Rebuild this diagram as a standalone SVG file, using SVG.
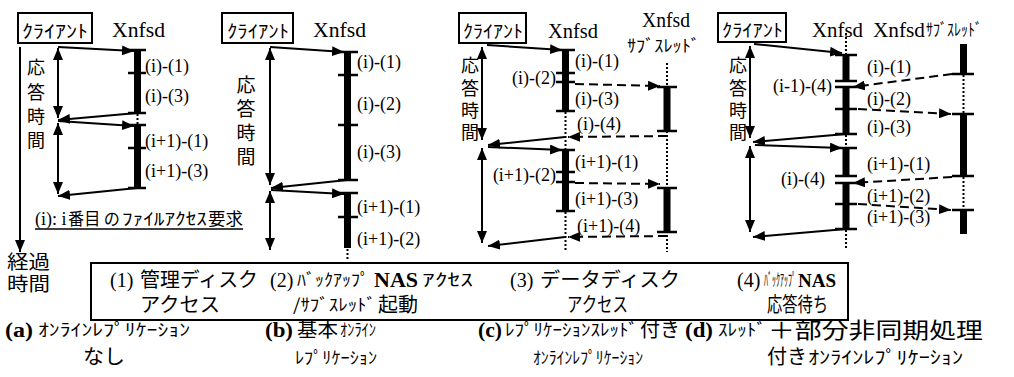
<svg xmlns="http://www.w3.org/2000/svg" width="1014" height="377" viewBox="0 0 1014 377">
  <defs>
    <style>
      .t { font-family: "Liberation Serif", "Noto Sans CJK JP", serif; fill: #000; }
      .jp { font-family: "Noto Sans CJK JP", sans-serif; fill: #000; }
      .lbl { font-family: "Liberation Serif", serif; font-size: 18px; fill: #000; }
      .b { font-weight: bold; }
      .box { fill: #fff; stroke: #000; stroke-width: 2; }
      .bar { fill: #000; }
      .tick { stroke: #000; stroke-width: 2.5; }
      .msg { stroke: #000; stroke-width: 2; fill: none; }
      .dash { stroke-dasharray: 9 5; }
      .dot { stroke: #000; stroke-width: 2; stroke-dasharray: 2 2; fill: none; }
    </style>
    <marker id="ah" viewBox="0 0 12 10" refX="12" refY="5" markerWidth="12" markerHeight="10" markerUnits="userSpaceOnUse" orient="auto-start-reverse">
      <path d="M0,0 L12,5 L0,10 z" fill="#000"/>
    </marker>
  </defs>
  <rect width="1014" height="377" fill="#fff"/>

  <!-- time axis -->
  <g id="time-axis">
    <line class="msg" x1="20" y1="47" x2="20" y2="252" marker-end="url(#ah)"/>
    <text class="jp" x="7" y="269" font-size="19" textLength="43" lengthAdjust="spacingAndGlyphs">経過</text>
    <text class="jp" x="7" y="291" font-size="19" textLength="43" lengthAdjust="spacingAndGlyphs">時間</text>
  </g>

  <!-- ===== (a) ===== -->
  <g id="a-client">
    <rect class="box" x="18" y="13" width="74" height="30"/>
    <text class="jp" x="22" y="38" font-size="18" textLength="66" lengthAdjust="spacingAndGlyphs">ｸﾗｲｱﾝﾄ</text>
    <text class="jp" font-size="18" text-anchor="middle"><tspan x="36" y="74">応</tspan><tspan x="36" y="99">答</tspan><tspan x="36" y="123">時</tspan><tspan x="36" y="147">間</tspan></text>
  </g>
  <g id="a-xnfsd">
    <text class="t" x="112" y="37" font-size="20" textLength="53" lengthAdjust="spacingAndGlyphs">Xnfsd</text>
    <rect class="bar" x="134" y="50" width="7" height="63"/>
    <rect class="bar" x="134" y="125" width="7" height="63"/>
    <line class="dot" x1="137.5" y1="114" x2="137.5" y2="125"/>
    <path class="tick" d="M128,50H146M128,73H146M128,113H146M128,125H146M128,148H146M128,188H146"/>
    <text class="lbl" x="145" y="72">(i)-(1)</text>
    <text class="lbl" x="145" y="102">(i)-(3)</text>
    <text class="lbl" x="145" y="147">(i+1)-(1)</text>
    <text class="lbl" x="145" y="177">(i+1)-(3)</text>
  </g>
  <g id="a-note">
    <text class="lbl" x="35" y="225" font-size="17">(i): i</text>
    <text class="jp" x="68" y="225" font-size="17" textLength="52" lengthAdjust="spacingAndGlyphs">番目 の</text>
    <text class="jp" x="122" y="225" font-size="17" textLength="85" lengthAdjust="spacingAndGlyphs">ﾌｧｲﾙｱｸｾｽ</text>
    <text class="jp" x="208" y="225" font-size="17" textLength="35" lengthAdjust="spacingAndGlyphs">要求</text>
    <line x1="35" y1="229" x2="243" y2="229" stroke="#000" stroke-width="1.5"/>
  </g>

  <!-- ===== (b) ===== -->
  <g id="b-client">
    <rect class="box" x="222" y="13" width="71" height="30"/>
    <text class="jp" x="227" y="38" font-size="18" textLength="62" lengthAdjust="spacingAndGlyphs">ｸﾗｲｱﾝﾄ</text>
    <text class="jp" font-size="19" text-anchor="middle"><tspan x="246" y="92">応</tspan><tspan x="246" y="116">答</tspan><tspan x="246" y="140">時</tspan><tspan x="246" y="164">間</tspan></text>
  </g>
  <g id="b-xnfsd">
    <text class="t" x="313" y="37" font-size="20" textLength="53" lengthAdjust="spacingAndGlyphs">Xnfsd</text>
    <rect class="bar" x="344" y="52" width="7" height="128"/>
    <rect class="bar" x="344" y="193" width="7" height="55"/>
    <line class="dot" x1="347.5" y1="249" x2="347.5" y2="260"/>
    <path class="tick" d="M338,52H358M338,75H358M338,125H358M338,180H358M338,193H358M338,217H358"/>
    <text class="lbl" x="357" y="68">(i)-(1)</text>
    <text class="lbl" x="357" y="110">(i)-(2)</text>
    <text class="lbl" x="357" y="158">(i)-(3)</text>
    <text class="lbl" x="357" y="213">(i+1)-(1)</text>
    <text class="lbl" x="357" y="245">(i+1)-(2)</text>
  </g>

  <!-- ===== (c) ===== -->
  <g id="c-client">
    <rect class="box" x="459" y="13" width="67" height="30"/>
    <text class="jp" x="463" y="38" font-size="18" textLength="60" lengthAdjust="spacingAndGlyphs">ｸﾗｲｱﾝﾄ</text>
    <text class="jp" font-size="18" text-anchor="middle"><tspan x="470" y="72">応</tspan><tspan x="470" y="95">答</tspan><tspan x="470" y="117">時</tspan><tspan x="470" y="139">間</tspan></text>
  </g>
  <g id="c-xnfsd">
    <text class="t" x="548" y="38" font-size="20" textLength="50" lengthAdjust="spacingAndGlyphs">Xnfsd</text>
    <rect class="bar" x="562" y="50" width="7" height="61"/>
    <rect class="bar" x="562" y="150" width="7" height="61"/>
    <line class="dot" x1="565.5" y1="112" x2="565.5" y2="150"/>
    <line class="dot" x1="565.5" y1="212" x2="565.5" y2="252"/>
    <path class="tick" d="M556,50H575M556,73H575M556,82H575M556,111H575M556,150H575M556,172H575M556,182H575M556,211H575"/>
    <text class="lbl" x="575" y="67">(i)-(1)</text>
    <text class="lbl" x="556" y="84" text-anchor="end">(i)-(2)</text>
    <text class="lbl" x="575" y="105">(i)-(3)</text>
    <text class="lbl" x="577" y="130">(i)-(4)</text>
    <text class="lbl" x="575" y="168">(i+1)-(1)</text>
    <text class="lbl" x="556" y="181" text-anchor="end">(i+1)-(2)</text>
    <text class="lbl" x="575" y="205">(i+1)-(3)</text>
    <text class="lbl" x="577" y="232">(i+1)-(4)</text>
  </g>
  <g id="c-subthread">
    <text class="t" x="642" y="27" font-size="20" textLength="48" lengthAdjust="spacingAndGlyphs">Xnfsd</text>
    <text class="jp" x="627" y="52" font-size="17" textLength="73" lengthAdjust="spacingAndGlyphs">ｻﾌﾞｽﾚｯﾄﾞ</text>
    <line class="dot" x1="667" y1="63" x2="667" y2="252"/>
    <rect class="bar" x="663.5" y="87" width="7" height="44"/>
    <rect class="bar" x="663.5" y="188" width="7" height="44"/>
    <path class="tick" d="M657,87H677M657,131H677M657,188H677M657,232H677"/>
  </g>

  <!-- ===== (d) ===== -->
  <g id="d-client">
    <rect class="box" x="718" y="13" width="68" height="29"/>
    <text class="jp" x="722" y="37" font-size="18" textLength="61" lengthAdjust="spacingAndGlyphs">ｸﾗｲｱﾝﾄ</text>
    <text class="jp" font-size="18" text-anchor="middle"><tspan x="738" y="72">応</tspan><tspan x="738" y="95">答</tspan><tspan x="738" y="117">時</tspan><tspan x="738" y="139">間</tspan></text>
  </g>
  <g id="d-xnfsd">
    <text class="t" x="812" y="37" font-size="20" textLength="51" lengthAdjust="spacingAndGlyphs">Xnfsd</text>
    <line class="dot" x1="846" y1="33" x2="846" y2="55"/>
    <line class="dot" x1="846" y1="135" x2="846" y2="148"/>
    <line class="dot" x1="846" y1="230" x2="846" y2="248"/>
    <rect class="bar" x="842.5" y="55" width="7" height="26"/>
    <rect class="bar" x="842.5" y="87" width="7" height="47"/>
    <rect class="bar" x="842.5" y="148" width="7" height="28"/>
    <rect class="bar" x="842.5" y="183" width="7" height="46"/>
    <path class="tick" d="M835,55H857M835,81H857M835,87H857M835,109H857M835,134H857M835,148H857M835,176H857M835,183H857M835,204H857M835,229H857"/>
    <text class="lbl" x="867" y="73">(i)-(1)</text>
    <text class="lbl" x="832" y="92" text-anchor="end">(i-1)-(4)</text>
    <text class="lbl" x="867" y="105">(i)-(2)</text>
    <text class="lbl" x="867" y="133">(i)-(3)</text>
    <text class="lbl" x="867" y="170">(i+1)-(1)</text>
    <text class="lbl" x="825" y="185" text-anchor="end">(i)-(4)</text>
    <text class="lbl" x="867" y="202">(i+1)-(2)</text>
    <text class="lbl" x="867" y="223">(i+1)-(3)</text>
  </g>
  <g id="d-subthread">
    <text class="t" x="873" y="37" font-size="20" textLength="52" lengthAdjust="spacingAndGlyphs">Xnfsd</text>
    <text class="jp" x="926" y="36" font-size="17" textLength="56" lengthAdjust="spacingAndGlyphs">ｻﾌﾞｽﾚｯﾄﾞ</text>
    <line class="dot" x1="963.5" y1="75" x2="963.5" y2="114"/>
    <line class="dot" x1="963.5" y1="177" x2="963.5" y2="210"/>
    <rect class="bar" x="960" y="44" width="7" height="30"/>
    <rect class="bar" x="960" y="114" width="7" height="62"/>
    <rect class="bar" x="960" y="210" width="7" height="24"/>
    <path class="tick" d="M952,74H974M952,114H974M952,176H974M952,210H974"/>
  </g>

  <!-- connectors -->
  <g id="connectors">
    <!-- (a) -->
    <line class="msg" x1="58" y1="47" x2="134" y2="51" marker-end="url(#ah)"/>
    <line class="msg" x1="137" y1="113" x2="58" y2="120" marker-end="url(#ah)"/>
    <line class="msg" x1="58" y1="121" x2="134" y2="126" marker-end="url(#ah)"/>
    <line class="msg" x1="137" y1="188" x2="58" y2="196" marker-end="url(#ah)"/>
    <line class="msg" x1="58" y1="48" x2="58" y2="118" marker-start="url(#ah)" marker-end="url(#ah)"/>
    <line class="msg" x1="58" y1="123" x2="58" y2="194" marker-start="url(#ah)" marker-end="url(#ah)"/>
    <!-- (b) -->
    <line class="msg" x1="270" y1="47" x2="344" y2="52" marker-end="url(#ah)"/>
    <line class="msg" x1="347" y1="180" x2="271" y2="188" marker-end="url(#ah)"/>
    <line class="msg" x1="271" y1="190" x2="344" y2="194" marker-end="url(#ah)"/>
    <line class="msg" x1="270" y1="48" x2="270" y2="185" marker-start="url(#ah)" marker-end="url(#ah)"/>
    <line class="msg" x1="270" y1="191" x2="270" y2="250" marker-start="url(#ah)" marker-end="url(#ah)"/>
    <!-- (c) -->
    <line class="msg" x1="487" y1="45" x2="562" y2="50" marker-end="url(#ah)"/>
    <line class="msg dash" x1="575" y1="84" x2="660" y2="86" marker-end="url(#ah)"/>
    <line class="msg dash" x1="667" y1="136" x2="568" y2="137" marker-end="url(#ah)"/>
    <line class="msg" x1="565" y1="137" x2="488" y2="145" marker-end="url(#ah)"/>
    <line class="msg" x1="488" y1="147" x2="562" y2="150" marker-end="url(#ah)"/>
    <line class="msg dash" x1="575" y1="183" x2="660" y2="184" marker-end="url(#ah)"/>
    <line class="msg dash" x1="667" y1="236" x2="568" y2="237" marker-end="url(#ah)"/>
    <line class="msg" x1="565" y1="237" x2="488" y2="246" marker-end="url(#ah)"/>
    <line class="msg" x1="482" y1="47" x2="482" y2="140" marker-start="url(#ah)" marker-end="url(#ah)"/>
    <line class="msg" x1="482" y1="148" x2="482" y2="243" marker-start="url(#ah)" marker-end="url(#ah)"/>
    <!-- (d) -->
    <line class="msg" x1="754" y1="44" x2="842" y2="53" marker-end="url(#ah)"/>
    <line class="msg dash" x1="952" y1="74" x2="853" y2="87" marker-end="url(#ah)"/>
    <line class="msg dash" x1="858" y1="109" x2="951" y2="114" marker-end="url(#ah)"/>
    <line class="msg" x1="846" y1="134" x2="753" y2="142" marker-end="url(#ah)"/>
    <line class="msg" x1="755" y1="145" x2="842" y2="148" marker-end="url(#ah)"/>
    <line class="msg dash" x1="952" y1="177" x2="853" y2="183" marker-end="url(#ah)"/>
    <line class="msg dash" x1="858" y1="204" x2="951" y2="210" marker-end="url(#ah)"/>
    <line class="msg" x1="846" y1="229" x2="753" y2="237" marker-end="url(#ah)"/>
    <line class="msg" x1="750" y1="46" x2="750" y2="138" marker-start="url(#ah)" marker-end="url(#ah)"/>
    <line class="msg" x1="750" y1="146" x2="750" y2="232" marker-start="url(#ah)" marker-end="url(#ah)"/>
  </g>

  <!-- legend of processing steps -->
  <g id="legend">
    <rect x="91" y="263" width="757" height="57" fill="none" stroke="#000" stroke-width="2"/>
    <!-- (1) -->
    <text class="t" x="110" y="287" font-size="20">(1)</text>
    <text class="jp" x="140" y="287" font-size="20" textLength="118" lengthAdjust="spacingAndGlyphs">管理ディスク</text>
    <text class="jp" x="140" y="312" font-size="20" textLength="80" lengthAdjust="spacingAndGlyphs">アクセス</text>
    <!-- (2) -->
    <text class="t" x="270" y="287" font-size="20">(2)</text>
    <text class="jp" x="297" y="286" font-size="17" textLength="72" lengthAdjust="spacingAndGlyphs">ﾊﾞｯｸｱｯﾌﾟ</text>
    <text class="t b" x="374" y="287" font-size="20" textLength="44" lengthAdjust="spacingAndGlyphs">NAS</text>
    <text class="jp" x="422" y="286" font-size="17" textLength="51" lengthAdjust="spacingAndGlyphs">ｱｸｾｽ</text>
    <text class="jp" x="293" y="311" font-size="17" textLength="83" lengthAdjust="spacingAndGlyphs">/ｻﾌﾞｽﾚｯﾄﾞ</text>
    <text class="jp" x="378" y="312" font-size="20" textLength="40" lengthAdjust="spacingAndGlyphs">起動</text>
    <!-- (3) -->
    <text class="t" x="510" y="287" font-size="20">(3)</text>
    <text class="jp" x="540" y="287" font-size="20" textLength="140" lengthAdjust="spacingAndGlyphs">データディスク</text>
    <text class="jp" x="567" y="312" font-size="20" textLength="61" lengthAdjust="spacingAndGlyphs">アクセス</text>
    <!-- (4) -->
    <text class="t" x="737" y="287" font-size="20">(4)</text>
    <text class="jp" x="764" y="286" font-size="17" textLength="32" lengthAdjust="spacingAndGlyphs">ﾊﾞｯｸｱｯﾌﾟ</text>
    <text class="t b" x="798" y="287" font-size="19" textLength="38" lengthAdjust="spacingAndGlyphs">NAS</text>
    <text class="jp" x="767" y="312" font-size="20" textLength="61" lengthAdjust="spacingAndGlyphs">応答待ち</text>
  </g>

  <!-- panel captions -->
  <g id="captions">
    <text class="t b" x="5" y="337" font-size="20" textLength="28" lengthAdjust="spacingAndGlyphs">(a)</text>
    <text class="jp" x="38" y="336" font-size="17" textLength="152" lengthAdjust="spacingAndGlyphs">ｵﾝﾗｲﾝﾚﾌﾟﾘｹｰｼｮﾝ</text>
    <text class="jp" x="83" y="364" font-size="20" textLength="42" lengthAdjust="spacingAndGlyphs">なし</text>

    <text class="t b" x="265" y="337" font-size="20" textLength="28" lengthAdjust="spacingAndGlyphs">(b)</text>
    <text class="jp" x="297" y="337" font-size="20" textLength="41" lengthAdjust="spacingAndGlyphs">基本</text>
    <text class="jp" x="340" y="336" font-size="17" textLength="36" lengthAdjust="spacingAndGlyphs">ｵﾝﾗｲﾝ</text>
    <text class="jp" x="295" y="364" font-size="17" textLength="82" lengthAdjust="spacingAndGlyphs">ﾚﾌﾟﾘｹｰｼｮﾝ</text>

    <text class="t b" x="478" y="337" font-size="20" textLength="24" lengthAdjust="spacingAndGlyphs">(c)</text>
    <text class="jp" x="505" y="336" font-size="17" textLength="133" lengthAdjust="spacingAndGlyphs">ﾚﾌﾟﾘｹｰｼｮﾝｽﾚｯﾄﾞ</text>
    <text class="jp" x="640" y="337" font-size="20" textLength="40" lengthAdjust="spacingAndGlyphs">付き</text>
    <text class="jp" x="533" y="364" font-size="17" textLength="110" lengthAdjust="spacingAndGlyphs">ｵﾝﾗｲﾝﾚﾌﾟﾘｹｰｼｮﾝ</text>

    <text class="t b" x="685" y="337" font-size="20" textLength="28" lengthAdjust="spacingAndGlyphs">(d)</text>
    <text class="jp" x="718" y="336" font-size="17" textLength="48" lengthAdjust="spacingAndGlyphs">ｽﾚｯﾄﾞ</text>
    <text class="jp" x="768" y="338" font-size="22" textLength="215" lengthAdjust="spacingAndGlyphs">＋部分非同期処理</text>
    <text class="jp" x="767" y="364" font-size="20" textLength="40" lengthAdjust="spacingAndGlyphs">付き</text>
    <text class="jp" x="808" y="364" font-size="18" textLength="155" lengthAdjust="spacingAndGlyphs">ｵﾝﾗｲﾝﾚﾌﾟﾘｹｰｼｮﾝ</text>
  </g>
</svg>
